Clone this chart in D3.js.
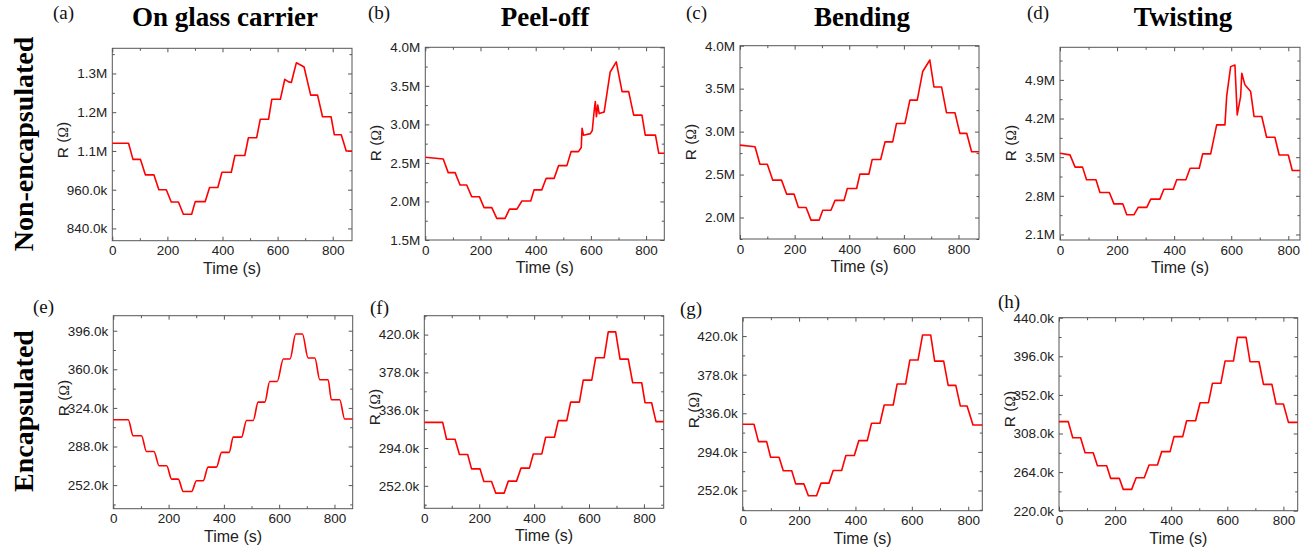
<!DOCTYPE html>
<html>
<head>
<meta charset="utf-8">
<script src="https://cdn.jsdelivr.net/npm/d3@7"></script>
<style>
  body { margin: 0; background: #fff; }
  text { font-family: "Liberation Sans", Arial, sans-serif; }
  .serif { font-family: "Liberation Serif", "Times New Roman", serif; }
</style>
</head>
<body>
<div id="chart"></div>
<script>
// ---- data (time in s, resistance in kOhm) ----
var timeTicks = [0, 200, 400, 600, 800];
var timeMinor = [100, 300, 500, 700];

var glassPts = [[0,1104],[59,1104],[75,1054],[102,1054],[120,1006],[151,1006],[169,960],[196,960],[214,922],[240,922],[258,884],[288,884],[301,923],[337,923],[353,967],[383,967],[398,1014],[432,1014],[445,1066],[481,1066],[494,1121],[524,1121],[537,1178],[567,1178],[579,1240],[610,1240],[626,1302],[640,1294],[650,1292],[658,1320],[668,1353],[680,1348],[696,1340],[720,1253],[745,1253],[763,1186],[794,1186],[806,1130],[831,1130],[849,1080],[870,1080]];
var peelPts = [[0,2573],[65,2550],[83,2374],[108,2374],[126,2214],[150,2214],[168,2062],[196,2062],[213,1920],[241,1920],[259,1780],[289,1780],[305,1900],[332,1900],[350,2006],[382,2006],[394,2150],[422,2150],[438,2300],[467,2300],[483,2465],[513,2465],[528,2646],[555,2646],[565,2700],[568,2950],[573,2860],[598,2880],[605,2920],[612,3180],[616,3295],[620,3100],[625,3250],[630,3140],[648,3160],[670,3680],[692,3810],[713,3425],[737,3425],[755,3120],[785,3120],[797,2860],[834,2860],[846,2625],[866,2625]];
var bendPts = [[0,2843],[55,2823],[73,2620],[100,2620],[120,2435],[152,2435],[171,2272],[198,2272],[214,2117],[242,2117],[260,1970],[290,1970],[303,2085],[333,2085],[348,2200],[381,2200],[393,2338],[427,2338],[439,2505],[472,2505],[484,2676],[515,2676],[531,2880],[559,2880],[573,3095],[604,3095],[622,3367],[649,3367],[669,3700],[695,3833],[710,3520],[738,3520],[756,3220],[787,3220],[805,2980],[830,2980],[848,2765],[875,2765]];
var twistPts = [[0,3572],[35,3542],[53,3320],[79,3320],[93,3090],[126,3090],[140,2860],[173,2860],[189,2655],[220,2655],[234,2456],[259,2456],[274,2590],[304,2590],[318,2740],[350,2740],[364,2920],[397,2920],[409,3090],[441,3090],[456,3300],[488,3300],[500,3560],[528,3560],[549,4085],[578,4085],[584,4600],[598,5140],[613,5170],[621,4266],[633,4600],[637,5020],[648,4810],[668,4690],[680,4236],[707,4236],[724,3860],[753,3860],[768,3540],[800,3540],[814,3260],[841,3260]];

var encGlassPts = [[0,313],[54,313],[72,298],[102,298],[120,283.4],[147,283.4],[166,270],[193,270],[211,257.6],[235,257.6],[253,246],[283,246],[301,256],[325,256],[343,268.8],[373,268.8],[392,282.5],[419,282.5],[434,296.8],[464,296.8],[482,312.3],[506,312.3],[524,329.4],[548,329.4],[566,348.7],[593,348.7],[615,369.6],[639,369.6],[660,392.9],[684,392.9],[705,370.5],[729,370.5],[747,350.3],[777,350.3],[789,331.6],[819,331.6],[837,313.6],[866,313.6]];
var encPeelPts = [[0,322.5],[67,322.5],[81,303.7],[112,303.7],[128,286.7],[158,286.7],[172,270.8],[203,270.8],[217,256.8],[245,256.8],[260,243.9],[291,243.9],[306,257.2],[336,257.2],[352,271.6],[383,271.6],[397,287.4],[428,287.4],[442,305.9],[474,305.9],[488,324.4],[519,324.4],[533,345],[565,345],[579,369.4],[610,369.4],[624,394.2],[655,394.2],[670,423],[697,423],[713,392.7],[743,392.7],[759,366.5],[792,366.5],[804,344.3],[828,344.3],[844,323.3],[872,323.3]];
var encBendPts = [[0,324],[40,324],[56,305.2],[85,305.2],[99,288.2],[129,288.2],[144,273.4],[174,273.4],[188,259.2],[217,259.2],[233,246.2],[262,246.2],[278,260],[306,260],[321,273.7],[351,273.7],[366,290],[396,290],[412,306.3],[442,306.3],[457,325.1],[487,325.1],[502,345],[534,345],[548,367.9],[578,367.9],[593,393.9],[622,393.9],[638,421.1],[667,421.1],[681,392.8],[713,392.8],[729,366.4],[756,366.4],[772,344],[796,344],[817,323.3],[850,323.3]];
var encTwistPts = [[0,321.5],[33,321.5],[49,303.2],[77,303.2],[93,286.1],[122,286.1],[137,271.3],[170,271.3],[184,256.9],[215,256.9],[229,244.3],[259,244.3],[275,257.6],[304,257.6],[321,272.1],[351,272.1],[366,287.3],[396,287.3],[410,304.4],[441,304.4],[455,322.6],[487,322.6],[503,343.1],[533,343.1],[547,365.2],[577,365.2],[592,390.6],[622,390.6],[636,417.6],[667,417.6],[681,389.8],[713,389.8],[729,364],[759,364],[774,341.6],[800,341.6],[818,320.7],[851,320.7]];

// y tick values (kOhm) and their labels
var glassTicks = [840, 960, 1080, 1200, 1320];
var glassLabels = ["840.0k", "960.0k", "1.1M", "1.2M", "1.3M"];
var peelTicks = [1500, 2000, 2500, 3000, 3500, 4000];
var peelLabels = ["1.5M", "2.0M", "2.5M", "3.0M", "3.5M", "4.0M"];
var bendTicks = [2000, 2500, 3000, 3500, 4000];
var bendLabels = ["2.0M", "2.5M", "3.0M", "3.5M", "4.0M"];
var twistTicks = [2100, 2800, 3500, 4200, 4900];
var twistLabels = ["2.1M", "2.8M", "3.5M", "4.2M", "4.9M"];
var encGlassTicks = [252, 288, 324, 360, 396];
var encGlassLabels = ["252.0k", "288.0k", "324.0k", "360.0k", "396.0k"];
var encPeelTicks = [252, 294, 336, 378, 420];
var encPeelLabels = ["252.0k", "294.0k", "336.0k", "378.0k", "420.0k"];
var encTwistTicks = [220, 264, 308, 352, 396, 440];
var encTwistLabels = ["220.0k", "264.0k", "308.0k", "352.0k", "396.0k", "440.0k"];

var titles = ["On glass carrier", "Peel-off", "Bending", "Twisting"];
var rowLabels = ["Non-encapsulated", "Encapsulated"];

// ---- layout ----
var W = 1314, H = 554;
var svg = d3.select("#chart").append("svg")
    .attr("width", W)
    .attr("height", H);

// box = [left, top, right, bottom]
var panels = [
  {pts: glassPts, ticks: glassTicks, labels: glassLabels, xMax: 870, yDom: [802, 1398], box: [112.3, 48.3, 352, 240.7], tag: "(a)", tagAt: [53, 19], yTitleY: 140},
  {pts: peelPts, ticks: peelTicks, labels: peelLabels, xMax: 866, yDom: [1500, 4000], box: [425.3, 47.3, 664.3, 240], tag: "(b)", tagAt: [368, 19], yTitleY: 143},
  {pts: bendPts, ticks: bendTicks, labels: bendLabels, xMax: 875, yDom: [1750, 4000], box: [740, 45.7, 979, 239], tag: "(c)", tagAt: [686, 19], yTitleY: 142},
  {pts: twistPts, ticks: twistTicks, labels: twistLabels, xMax: 841, yDom: [2000, 5490], box: [1060, 47.3, 1300, 240], tag: "(d)", tagAt: [1027, 19], yTitleY: 143},
  {pts: encGlassPts, ticks: encGlassTicks, labels: encGlassLabels, xMax: 866, yDom: [230, 410], box: [113.3, 315.7, 352.7, 508.7], tag: "(e)", tagAt: [33, 313], yTitleY: 398, smooth: true},
  {pts: encPeelPts, ticks: encPeelTicks, labels: encPeelLabels, xMax: 872, yDom: [227, 441], box: [424.3, 315.7, 663.7, 508.3], tag: "(f)", tagAt: [370, 314], yTitleY: 407},
  {pts: encBendPts, ticks: encPeelTicks, labels: encPeelLabels, xMax: 850, yDom: [230, 440], box: [742.7, 317.7, 982.3, 510.7], tag: "(g)", tagAt: [680, 315], yTitleY: 410},
  {pts: encTwistPts, ticks: encTwistTicks, labels: encTwistLabels, xMax: 851, yDom: [220, 440], box: [1059, 317.7, 1297.7, 510.7], tag: "(h)", tagAt: [998, 308], yTitleY: 409}
];

var axisColor = "#555";

function drawPanel(p) {
  var left = p.box[0], top = p.box[1], right = p.box[2], bottom = p.box[3];

  var x = d3.scaleLinear().domain([0, p.xMax]).range([left, right]);
  var y = d3.scaleLinear().domain(p.yDom).range([bottom, top]);

  // minor y ticks half way between majors
  var step = p.ticks[1] - p.ticks[0];
  var yMinor = [];
  for (var v = p.ticks[0] - step / 2; v <= p.yDom[1]; v += step) {
    if (v >= p.yDom[0]) yMinor.push(v);
  }

  var g = svg.append("g");

  // bottom axis
  g.append("g")
    .attr("transform", "translate(0," + bottom + ")")
    .call(d3.axisBottom(x).tickValues(timeTicks).tickSizeInner(-4).tickSizeOuter(0).tickPadding(5));
  g.append("g")
    .attr("transform", "translate(0," + bottom + ")")
    .call(d3.axisBottom(x).tickValues(timeMinor).tickSizeInner(-2.5).tickSizeOuter(0).tickFormat(""));
  // top axis (ticks only)
  g.append("g")
    .attr("transform", "translate(0," + top + ")")
    .call(d3.axisTop(x).tickValues(timeTicks).tickSizeInner(-4).tickSizeOuter(0).tickFormat(""));
  g.append("g")
    .attr("transform", "translate(0," + top + ")")
    .call(d3.axisTop(x).tickValues(timeMinor).tickSizeInner(-2.5).tickSizeOuter(0).tickFormat(""));

  // left axis
  g.append("g")
    .attr("transform", "translate(" + left + ",0)")
    .call(d3.axisLeft(y).tickValues(p.ticks).tickSizeInner(-4).tickSizeOuter(0).tickPadding(5)
      .tickFormat(function(d, i) { return p.labels[i]; }));
  g.append("g")
    .attr("transform", "translate(" + left + ",0)")
    .call(d3.axisLeft(y).tickValues(yMinor).tickSizeInner(-2.5).tickSizeOuter(0).tickFormat(""));
  // right axis (ticks only)
  g.append("g")
    .attr("transform", "translate(" + right + ",0)")
    .call(d3.axisRight(y).tickValues(p.ticks).tickSizeInner(-4).tickSizeOuter(0).tickFormat(""));
  g.append("g")
    .attr("transform", "translate(" + right + ",0)")
    .call(d3.axisRight(y).tickValues(yMinor).tickSizeInner(-2.5).tickSizeOuter(0).tickFormat(""));

  g.selectAll(".domain").remove();
  g.selectAll(".tick line").attr("stroke", axisColor);
  g.selectAll(".tick text")
    .style("font-family", "'Liberation Sans', Arial, sans-serif")
    .style("font-size", "13.5px")
    .attr("fill", "#222");

  // frame
  g.append("rect")
    .attr("x", left).attr("y", top)
    .attr("width", right - left).attr("height", bottom - top)
    .attr("fill", "none")
    .attr("stroke", axisColor)
    .attr("stroke-width", 1);

  // data line
  var line = d3.line()
    .x(function(d) { return x(d[0]); })
    .y(function(d) { return y(d[1]); })
    .curve(p.smooth ? d3.curveMonotoneX : d3.curveLinear);

  g.append("path")
    .datum(p.pts)
    .attr("fill", "none")
    .attr("stroke", "#ff0000")
    .attr("stroke-width", 1.6)
    .attr("stroke-linejoin", "round")
    .attr("d", line);

  // axis titles
  g.append("text")
    .attr("x", (left + right) / 2)
    .attr("y", bottom + 33)
    .attr("text-anchor", "middle")
    .style("font-size", "16px")
    .attr("fill", "#222")
    .text("Time (s)");

  var yt = g.append("text")
    .attr("transform", "translate(" + (left - 44) + "," + p.yTitleY + ") rotate(-90)")
    .attr("text-anchor", "middle")
    .style("font-size", "15.5px")
    .attr("fill", "#222");
  yt.append("tspan").text("R (");
  yt.append("tspan").attr("class", "serif").style("font-size", "14px").text("Ω");
  yt.append("tspan").text(")");

  // panel tag
  g.append("text")
    .attr("class", "serif")
    .attr("x", p.tagAt[0])
    .attr("y", p.tagAt[1])
    .style("font-size", "19px")
    .attr("fill", "#111")
    .text(p.tag);
}

panels.forEach(drawPanel);

// column titles
var titleX = [225, 545, 862, 1183];
titles.forEach(function(t, i) {
  svg.append("text")
    .attr("class", "serif")
    .attr("x", titleX[i])
    .attr("y", 26)
    .attr("text-anchor", "middle")
    .style("font-size", "27px")
    .style("font-weight", "bold")
    .attr("fill", "#000")
    .text(t);
});

// row labels
var rowY = [144, 411];
rowLabels.forEach(function(t, i) {
  svg.append("text")
    .attr("class", "serif")
    .attr("transform", "translate(33," + rowY[i] + ") rotate(-90)")
    .attr("text-anchor", "middle")
    .style("font-size", "28px")
    .style("font-weight", "bold")
    .attr("fill", "#000")
    .text(t);
});
</script>
</body>
</html>
